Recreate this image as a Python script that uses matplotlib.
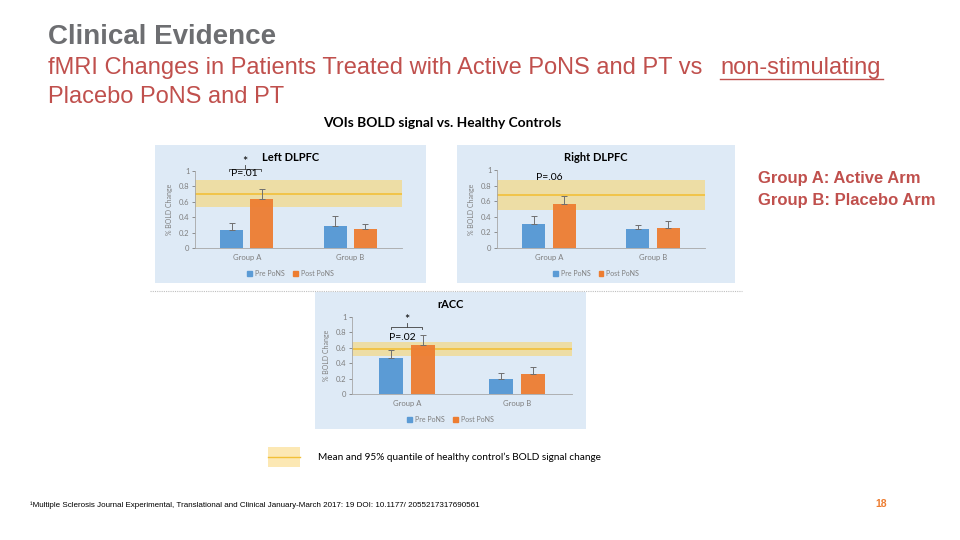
import numpy as np
import matplotlib.pyplot as plt
from matplotlib.patches import Rectangle
from matplotlib.lines import Line2D

groups = ["Group A", "Group B"]
series = ["Pre PoNS", "Post PoNS"]

left_pre = [0.24, 0.28]
left_pre_err = [0.08, 0.13]
left_post = [0.64, 0.25]
left_post_err = [0.12, 0.06]
left_band = (0.53, 0.70, 0.88)

right_pre = [0.31, 0.25]
right_pre_err = [0.10, 0.05]
right_post = [0.56, 0.26]
right_post_err = [0.11, 0.08]
right_band = (0.49, 0.68, 0.87)

racc_pre = [0.47, 0.20]
racc_pre_err = [0.10, 0.07]
racc_post = [0.63, 0.26]
racc_post_err = [0.13, 0.09]
racc_band = (0.49, 0.58, 0.67)

yticks = [0, 0.2, 0.4, 0.6, 0.8, 1]
ytick_labels = ["0", "0.2", "0.4", "0.6", "0.8", "1"]

BLUE = "#5B9BD5"
ORANGE = "#ED7D31"
PANEL = "#DEEAF6"
BAND = "#F3D98A"
MEAN = "#F2C038"
GRAY = "#7F7F7F"
RED = "#C0504D"
CH = "Lato"

W, H = 960, 540
fig = plt.figure(figsize=(9.6, 5.4), dpi=100)


def px_rect(x0, y0, x1, y1):
    return [x0 / W, 1 - y1 / H, (x1 - x0) / W, (y1 - y0) / H]


def panel(bg, ax_box, title, pre, pre_err, post, post_err, band):
    r = px_rect(*bg)
    fig.patches.append(Rectangle((r[0], r[1]), r[2], r[3], transform=fig.transFigure,
                                 facecolor=PANEL, edgecolor="none", zorder=-5))
    ax = fig.add_axes(px_rect(*ax_box))
    ax.set_facecolor("none")
    x = np.arange(len(groups))
    w = 0.22
    off = 0.145
    ax.axhspan(band[0], band[2], color=BAND, alpha=0.75, lw=0, zorder=1)
    ax.axhline(band[1], color=MEAN, lw=1.2, zorder=1.5)
    ax.bar(x - off, pre, w, color=BLUE, zorder=2, label=series[0])
    ax.bar(x + off, post, w, color=ORANGE, zorder=2, label=series[1], alpha=0.95)
    ax.errorbar(x - off, pre, yerr=[np.zeros(2), pre_err], fmt="none", ecolor="#6F6F6F",
                elinewidth=0.7, capsize=2, capthick=0.7, zorder=3)
    ax.errorbar(x + off, post, yerr=[np.zeros(2), post_err], fmt="none", ecolor="#6F6F6F",
                elinewidth=0.7, capsize=2, capthick=0.7, zorder=3)
    ax.set_xlim(-0.5, 1.5)
    ax.set_ylim(0, 1)
    ax.set_yticks(yticks)
    ax.set_yticklabels(ytick_labels)
    ax.set_xticks(x)
    ax.set_xticklabels(groups)
    ax.tick_params(axis="both", labelsize=5.5, colors=GRAY, length=2, width=0.6, pad=2)
    ax.tick_params(axis="x", length=0, pad=4)
    for lab in ax.get_xticklabels() + ax.get_yticklabels():
        lab.set_family(CH)
    for s in ["top", "right"]:
        ax.spines[s].set_visible(False)
    for s in ["left", "bottom"]:
        ax.spines[s].set_color("#A6A6A6")
        ax.spines[s].set_linewidth(0.6)
    ax.set_ylabel("% BOLD Change", fontsize=5, color=GRAY, family=CH, labelpad=4)
    cx = (bg[0] + bg[2]) / 2 / W
    fig.text(cx, 1 - (bg[1] + 13) / H, title, ha="center", va="center",
             fontsize=8, fontweight="bold", family=CH, color="#000000")
    handles = [Rectangle((0, 0), 1, 1, color=BLUE), Rectangle((0, 0), 1, 1, color=ORANGE)]
    fig.legend(handles, series, loc="center", bbox_to_anchor=(cx, 1 - (bg[3] - 10) / H),
               ncol=2, frameon=False, handlelength=0.7, handleheight=0.7,
               handletextpad=0.4, columnspacing=1.2, labelcolor=GRAY,
               prop={"family": CH, "size": 5})
    return ax


def bracket(ax, x0, x1, y, ystar):
    ax.plot([x0, x0, x1, x1], [y - 0.03, y, y, y - 0.03], color="#404040", lw=0.6, clip_on=False)
    xm = (x0 + x1) / 2
    ax.plot([xm, xm], [y, y + 0.05], color="#404040", lw=0.6, clip_on=False)
    ax.text(xm, ystar, "*", ha="center", va="center", fontsize=9, family=CH, clip_on=False)


ax1 = panel((155, 145, 426, 283), (195, 171, 402, 248), "Left DLPFC",
            left_pre, left_pre_err, left_post, left_post_err, left_band)
bracket(ax1, -0.17, 0.14, 1.03, 1.12)
ax1.text(-0.02, 0.97, "P=.01", ha="center", va="center", fontsize=7.5, family=CH, clip_on=False)

ax2 = panel((457, 145, 735, 283), (497, 170, 705, 248), "Right DLPFC",
            right_pre, right_pre_err, right_post, right_post_err, right_band)
ax2.text(0.0, 0.91, "P=.06", ha="center", va="center", fontsize=7.5, family=CH)

ax3 = panel((315, 292, 586, 429), (352, 317, 572, 394), "rACC",
            racc_pre, racc_pre_err, racc_post, racc_post_err, racc_band)
bracket(ax3, -0.145, 0.136, 0.87, 0.96)
ax3.text(-0.04, 0.74, "P=.02", ha="center", va="center", fontsize=7.5, family=CH)

# dotted separator
fig.add_artist(Line2D([150 / W, 742 / W], [1 - 291 / H] * 2, transform=fig.transFigure,
                      color="#BFBFBF", lw=0.8, ls=(0, (1, 1))))

# titles
fig.text(48 / W, 1 - 37 / H, "Clinical Evidence", fontsize=20, fontweight="bold",
         color="#6D6E71", family="Liberation Sans", va="center")
fig.text(48 / W, 1 - 68 / H, "fMRI Changes in Patients Treated with Active PoNS and PT vs",
         fontsize=17, color=RED, family="Liberation Sans", va="center")
fig.text(720 / W, 1 - 68 / H, "non-stimulating", fontsize=17, color=RED,
         family="Liberation Sans", va="center")
fig.add_artist(Line2D([720 / W, 883 / W], [1 - 79 / H] * 2, transform=fig.transFigure,
                      color=RED, lw=1))
fig.text(48 / W, 1 - 97 / H, "Placebo PoNS and PT", fontsize=17, color=RED,
         family="Liberation Sans", va="center")
fig.text(442 / W, 1 - 123 / H, "VOIs BOLD signal vs. Healthy Controls", fontsize=9.9,
         fontweight="bold", family=CH, ha="center", va="center")

fig.text(758 / W, 1 - 179 / H, "Group A: Active Arm", fontsize=12, fontweight="bold",
         color=RED, family="Liberation Sans", va="center")
fig.text(758 / W, 1 - 200 / H, "Group B: Placebo Arm", fontsize=12, fontweight="bold",
         color=RED, family="Liberation Sans", va="center")

# healthy control legend
fig.patches.append(Rectangle((268 / W, 1 - 467 / H), 32 / W, 20 / H, transform=fig.transFigure,
                             facecolor="#FCE8B4", edgecolor="none", zorder=-5))
fig.add_artist(Line2D([268 / W, 300 / W], [1 - 457 / H] * 2, transform=fig.transFigure,
                      color=MEAN, lw=1))
fig.text(318 / W, 1 - 457 / H, "Mean and 95% quantile of healthy control\u2019s BOLD signal change",
         fontsize=7.2, family=CH, va="center")

fig.text(30 / W, 1 - 505 / H,
         "\u00b9Multiple Sclerosis Journal Experimental, Translational and Clinical January-March 2017: 19 DOI: 10.1177/ 2055217317690561",
         fontsize=5.8, family="Liberation Sans", va="center")
fig.text(881 / W, 1 - 504 / H, "18", fontsize=7.5, fontweight="bold", color=ORANGE,
         family="Liberation Sans", ha="center", va="center")

fig.savefig("out.png", dpi=100)
